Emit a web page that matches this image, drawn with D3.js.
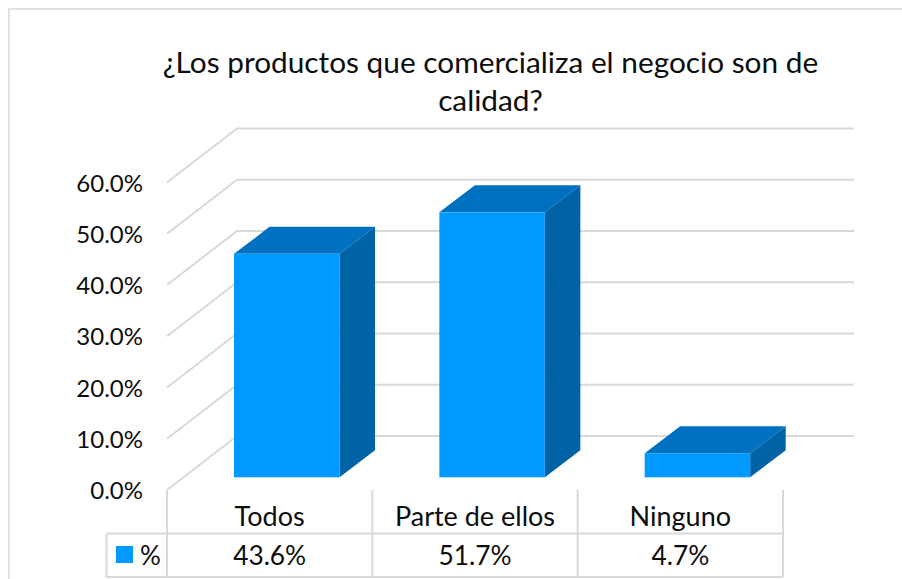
<!DOCTYPE html>
<html>
<head>
<meta charset="utf-8">
<script src="https://cdn.jsdelivr.net/npm/d3@7"></script>
<style>
html,body{margin:0;padding:0;background:#fff;}
svg{display:block;}
text{font-family:Lato,"Open Sans",sans-serif;fill:#0d0d0d;}
</style>
</head>
<body>
<svg id="chart" width="902" height="579"></svg>
<script>
const titleLines = ["¿Los productos que comercializa el negocio son de", "calidad?"];
const categories = ["Todos", "Parte de ellos", "Ninguno"];
const percentages = [43.6, 51.7, 4.7];
const yTicks = [0, 10, 20, 30, 40, 50, 60];
const seriesName = "%";

const gridColor = "#d9d9d9", frontColor = "#0099ff", topColor = "#0071c1", sideColor = "#0063a6";

const svg = d3.select("#chart");

// Floor of the 3D box: front-left corner and wall offset
const frontLeft = 167, frontRight = 783, wallDx = 70, wallDy = -54, wallRight = 854;
const y = d3.scaleLinear().domain([0, 60]).range([490, 182.5]);
const x = d3.scaleBand().domain(categories).range([frontLeft, frontRight]);

// Bars sit midway through the depth of the box
const barDx = 35.5 , barDy = -27, barWidth = 105.5, barShiftX = 17.1, barBase = y(0) - 12.7;
const barHeightScale = d3.scaleLinear().domain([0, 60]).range([0, y(0) - y(60)]);

// Chart area outline
svg.append("path")
  .attr("d", "M9,579V9H902")
  .attr("fill", "none").attr("stroke", gridColor).attr("stroke-width", 1.5);

// Gridlines: diagonal on the side wall, then horizontal along the back wall
svg.append("g").selectAll("path").data(yTicks).join("path")
  .attr("d", d => `M${frontLeft},${y(d)}L${frontLeft + wallDx},${y(d) + wallDy}H${wallRight}`)
  .attr("fill", "none").attr("stroke", gridColor).attr("stroke-width", 2);

// Value axis labels
svg.append("g").selectAll("text").data(yTicks).join("text")
  .attr("x", 143).attr("y", d => y(d) - 0.5)
  .attr("text-anchor", "end").attr("dominant-baseline", "central")
  .attr("font-size", 24)
  .text(d => d3.format(".1f")(d) + "%");

// Bars: top face, side face, front face
const bars = svg.append("g").selectAll("g").data(percentages).join("g");
const left = (d, i) => x(categories[i]) + (x.bandwidth() - barWidth) / 2 + barShiftX;
bars.append("path").attr("fill", topColor)
  .attr("d", (d, i) => {
    const l = left(d, i), t = barBase - barHeightScale(d);
    return `M${l},${t}l${barDx},${barDy}h${barWidth}l${-barDx},${-barDy}z`;
  });
bars.append("path").attr("fill", sideColor)
  .attr("d", (d, i) => {
    const r = left(d, i) + barWidth, t = barBase - barHeightScale(d);
    return `M${r},${t}l${barDx},${barDy}V${barBase + barDy}l${-barDx},${-barDy}z`;
  });
bars.append("rect").attr("fill", frontColor)
  .attr("x", left).attr("width", barWidth)
  .attr("y", d => barBase - barHeightScale(d))
  .attr("height", d => barHeightScale(d));

// Data table under the plot
const tableTop = 533.5, tableBottom = 577, legendLeft = 106.5;
const table = svg.append("g").attr("fill", "none").attr("stroke", gridColor).attr("stroke-width", 2);
x.domain().concat(["end"]).forEach((c, i) => {
  const px = frontLeft + i * x.step();
  table.append("path").attr("d", `M${px},490V${tableBottom}`);
});
table.append("path").attr("d", `M${legendLeft},${tableTop}H${frontRight}`);
table.append("path").attr("d", `M${legendLeft},${tableBottom}H${frontRight}`);
table.append("path").attr("d", `M${legendLeft},${tableTop}V${tableBottom}`);

// Category row and value row
svg.append("g").selectAll("text").data(categories).join("text")
  .attr("x", d => x(d) + x.bandwidth() / 2).attr("y", 525.5)
  .attr("text-anchor", "middle").attr("font-size", 27)
  .text(d => d);
svg.append("g").selectAll("text").data(percentages).join("text")
  .attr("x", (d, i) => x(categories[i]) + x.bandwidth() / 2).attr("y", 565)
  .attr("text-anchor", "middle").attr("font-size", 26.3)
  .text(d => d3.format(".1f")(d) + "%");

// Legend key
svg.append("rect").attr("x", 116).attr("y", 546).attr("width", 17).attr("height", 17).attr("fill", frontColor);
svg.append("text").attr("x", 140).attr("y", 565).attr("font-size", 26).text(seriesName);

// Title
svg.append("g").selectAll("text").data(titleLines).join("text")
  .attr("x", 490.5).attr("y", (d, i) => 72.5 + i * 38)
  .attr("text-anchor", "middle").attr("font-size", 29.8)
  .text(d => d);
</script>
</body>
</html>
